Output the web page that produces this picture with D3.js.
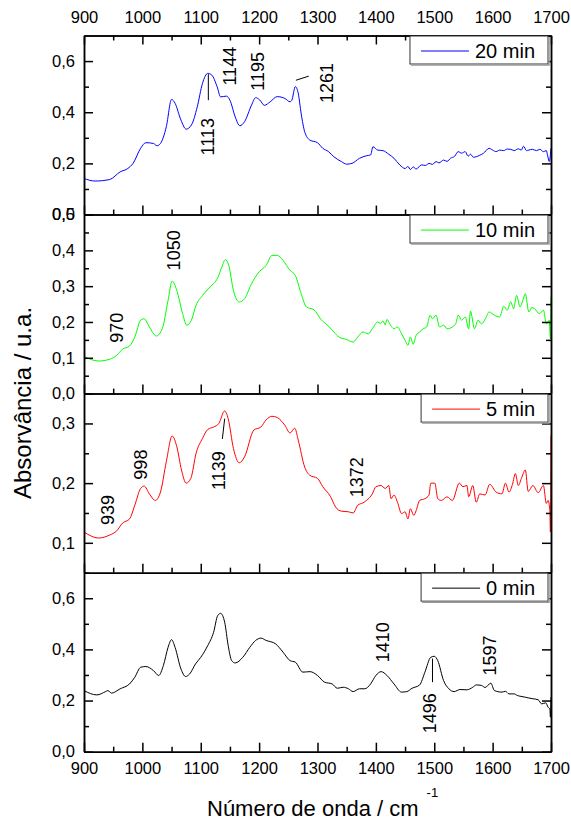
<!DOCTYPE html>
<html>
<head>
<meta charset="utf-8">
<script src="https://cdn.jsdelivr.net/npm/d3@7"></script>
<style>
  body { margin: 0; background: #fff; }
  text { font-family: "Liberation Sans", Arial, sans-serif; }
</style>
</head>
<body>
<svg id="chart" width="571" height="823"></svg>
<script>
// ---- data (wavenumber / cm-1, absorbance) ----
const xTicks = [900, 1000, 1100, 1200, 1300, 1400, 1500, 1600, 1700];
const xMinor = [950, 1050, 1150, 1250, 1350, 1450, 1550, 1650];
const legendLabels = ["20 min", "10 min", "5 min", "0 min"];

const spec20 = [[900,0.141],[919,0.131],[944,0.137],[962,0.167],[975,0.180],[984,0.200],[997,0.259],[1006,0.281],[1019,0.278],[1025,0.269],
  [1031,0.278],[1041,0.343],[1050,0.450],[1056,0.435],[1066,0.370],[1075,0.334],[1084,0.350],[1094,0.421],[1103,0.513],[1112,0.552],
  [1119,0.545],[1128,0.500],[1134,0.460],[1144,0.463],[1150,0.447],[1159,0.382],[1167,0.347],[1175,0.363],[1187,0.428],[1194,0.457],
  [1201,0.448],[1209,0.427],[1219,0.441],[1231,0.461],[1244,0.454],[1253,0.441],[1256,0.447],[1262,0.500],[1267,0.474],[1272,0.395],
  [1278,0.324],[1287,0.291],[1300,0.281],[1309,0.259],[1319,0.246],[1328,0.226],[1341,0.207],[1350,0.197],[1359,0.200],[1372,0.220],
  [1384,0.230],[1391,0.233],[1395,0.265],[1403,0.252],[1412,0.250],[1422,0.236],[1431,0.220],[1441,0.194],[1450,0.180],[1455,0.188],
  [1459,0.176],[1464,0.186],[1469,0.178],[1478,0.194],[1485,0.192],[1491,0.200],[1497,0.196],[1503,0.207],[1508,0.202],[1516,0.213],
  [1522,0.208],[1528,0.220],[1535,0.228],[1541,0.246],[1547,0.240],[1553,0.246],[1558,0.228],[1562,0.236],[1567,0.224],[1572,0.226],
  [1578,0.232],[1584,0.239],[1594,0.259],[1600,0.252],[1606,0.246],[1612,0.252],[1619,0.250],[1625,0.256],[1631,0.255],[1637,0.250],
  [1644,0.257],[1649,0.252],[1653,0.267],[1658,0.250],[1662,0.252],[1668,0.255],[1675,0.250],[1681,0.255],[1687,0.246],[1692,0.250],
  [1694,0.233],[1697,0.207],[1700,0.259]];

const spec10 = [[900,0.104],[925,0.091],[944,0.096],[956,0.107],[966,0.124],[978,0.133],[987,0.158],[997,0.205],[1003,0.209],[1012,0.186],
  [1024,0.161],[1034,0.181],[1044,0.260],[1051,0.314],[1059,0.288],[1069,0.223],[1076,0.191],[1084,0.205],[1092,0.247],[1103,0.274],
  [1116,0.298],[1129,0.323],[1136,0.353],[1142,0.374],[1148,0.358],[1156,0.288],[1166,0.256],[1175,0.265],[1187,0.307],[1200,0.340],
  [1212,0.358],[1222,0.386],[1231,0.386],[1241,0.372],[1253,0.344],[1262,0.330],[1272,0.279],[1281,0.242],[1294,0.234],[1306,0.207],
  [1319,0.188],[1328,0.172],[1337,0.158],[1350,0.151],[1361,0.144],[1369,0.158],[1378,0.172],[1387,0.167],[1394,0.181],[1403,0.200],
  [1408,0.196],[1412,0.203],[1416,0.192],[1419,0.207],[1425,0.191],[1431,0.181],[1437,0.186],[1444,0.167],[1450,0.149],[1455,0.135],
  [1459,0.158],[1464,0.138],[1469,0.163],[1475,0.172],[1481,0.181],[1487,0.186],[1493,0.219],[1497,0.209],[1503,0.219],[1509,0.186],
  [1516,0.191],[1522,0.181],[1531,0.186],[1537,0.196],[1541,0.219],[1547,0.205],[1553,0.214],[1559,0.181],[1562,0.230],[1569,0.181],
  [1575,0.205],[1581,0.195],[1588,0.210],[1594,0.228],[1603,0.219],[1612,0.214],[1619,0.244],[1625,0.233],[1631,0.256],[1636,0.237],
  [1641,0.274],[1647,0.242],[1652,0.262],[1656,0.279],[1662,0.228],[1667,0.240],[1672,0.237],[1680,0.223],[1687,0.233],[1692,0.195],
  [1697,0.205],[1699,0.153],[1700,0.270]];

const spec5 = [[900,0.118],[925,0.108],[944,0.113],[956,0.120],[966,0.133],[978,0.140],[987,0.163],[997,0.191],[1003,0.195],[1012,0.182],
  [1022,0.171],[1031,0.185],[1041,0.236],[1051,0.279],[1059,0.261],[1067,0.222],[1075,0.200],[1083,0.208],[1092,0.250],[1103,0.275],
  [1112,0.290],[1122,0.294],[1131,0.300],[1141,0.321],[1147,0.308],[1156,0.258],[1166,0.234],[1175,0.244],[1191,0.289],[1203,0.294],
  [1212,0.306],[1222,0.312],[1231,0.310],[1244,0.297],[1253,0.284],[1261,0.292],[1267,0.272],[1278,0.227],[1287,0.213],[1300,0.208],
  [1309,0.194],[1322,0.178],[1331,0.160],[1341,0.153],[1353,0.152],[1361,0.150],[1369,0.163],[1378,0.167],[1384,0.171],[1394,0.182],
  [1400,0.194],[1409,0.196],[1416,0.191],[1422,0.196],[1426,0.174],[1431,0.180],[1437,0.168],[1444,0.149],[1450,0.152],[1455,0.140],
  [1459,0.157],[1465,0.146],[1469,0.154],[1475,0.171],[1484,0.174],[1491,0.180],[1494,0.200],[1501,0.200],[1506,0.174],[1512,0.171],
  [1522,0.177],[1531,0.171],[1543,0.200],[1549,0.194],[1556,0.196],[1559,0.177],[1566,0.196],[1572,0.168],[1578,0.182],[1587,0.180],
  [1595,0.198],[1606,0.185],[1616,0.182],[1622,0.200],[1628,0.185],[1634,0.198],[1639,0.216],[1644,0.196],[1650,0.210],[1656,0.222],
  [1661,0.186],[1669,0.196],[1678,0.184],[1687,0.196],[1692,0.166],[1695,0.171],[1698,0.154],[1699,0.118],[1700,0.280]];

const spec0 = [[900,0.239],[922,0.222],[937,0.235],[941,0.239],[947,0.229],[962,0.246],[978,0.265],[987,0.291],[997,0.330],[1006,0.333],
  [1019,0.317],[1028,0.298],[1036,0.337],[1044,0.408],[1050,0.438],[1056,0.408],[1066,0.324],[1074,0.294],[1081,0.304],[1091,0.343],
  [1100,0.369],[1112,0.415],[1122,0.467],[1129,0.532],[1134,0.541],[1141,0.506],[1147,0.415],[1153,0.356],[1159,0.347],[1172,0.369],
  [1184,0.408],[1194,0.435],[1203,0.444],[1212,0.435],[1228,0.422],[1241,0.389],[1253,0.356],[1262,0.350],[1275,0.311],[1287,0.313],
  [1300,0.298],[1312,0.272],[1325,0.265],[1334,0.248],[1344,0.252],[1353,0.246],[1361,0.235],[1372,0.246],[1381,0.246],[1391,0.265],
  [1400,0.298],[1409,0.313],[1419,0.298],[1431,0.265],[1444,0.233],[1453,0.235],[1462,0.248],[1475,0.261],[1484,0.311],[1494,0.369],
  [1500,0.373],[1506,0.356],[1516,0.278],[1525,0.246],[1534,0.235],[1544,0.243],[1556,0.242],[1566,0.252],[1572,0.261],[1581,0.259],
  [1587,0.251],[1597,0.268],[1603,0.239],[1616,0.233],[1622,0.236],[1628,0.226],[1637,0.226],[1642,0.220],[1647,0.217],[1656,0.213],
  [1662,0.210],[1669,0.207],[1678,0.203],[1684,0.187],[1691,0.191],[1695,0.174],[1698,0.167],[1699,0.135],[1700,0.213]];

const series = [spec20, spec10, spec5, spec0];
const colors = ["#0000ff", "#00ff00", "#ff0000", "#000000"];

// y ranges + ticks of each stacked panel
const yDomains = [[0, 0.7], [0, 0.5], [0.05, 0.35], [0, 0.7]];
const yMajor = [[0, 0.2, 0.4, 0.6], [0, 0.1, 0.2, 0.3, 0.4, 0.5], [0.1, 0.2, 0.3], [0, 0.2, 0.4, 0.6]];
const yMinor = [[0.1, 0.3, 0.5], [0.05, 0.15, 0.25, 0.35, 0.45], [0.05, 0.15, 0.25, 0.35], [0.1, 0.3, 0.5]];

// peak labels (panel, text, wavenumber, absorbance of label centre)
const peakLabels = [
  [0, "1113", 1113, 0.304], [0, "1144", 1150, 0.58], [0, "1195", 1198, 0.56], [0, "1261", 1316, 0.514],
  [1, "970", 956, 0.184], [1, "1050", 1054, 0.40],
  [2, "939", 941, 0.155], [2, "998", 998, 0.231], [2, "1139", 1131, 0.221], [2, "1372", 1368, 0.21],
  [3, "1410", 1412, 0.428], [3, "1496", 1493, 0.15], [3, "1597", 1595, 0.376]
];
// leader lines (panel, [wn, abs], [wn, abs])
const leaders = [
  [0, [1113, 0.549], [1113, 0.447]],
  [0, [1263, 0.525], [1285, 0.541]],
  [2, [1137, 0.274], [1141, 0.308]],
  [3, [1497, 0.364], [1497, 0.272]]
];

// ---- layout ----
let svg = d3.select("#chart");
let plotLeft = 84, plotRight = 551, plotTop = 35.5, plotBottom = 751.7;
let panelH = (plotBottom - plotTop) / 4;

let x = d3.scaleLinear().domain([900, 1700]).range([plotLeft, plotRight]);
let fmt = d => d3.format(".1f")(d).replace(".", ",");

let line = d3.line().x(d => x(d[0])).curve(d3.curveMonotoneX);

function styleAxis(g) {
  g.selectAll("path").attr("stroke", "#000").attr("stroke-width", 1.5);
  g.selectAll("line").attr("stroke", "#000").attr("stroke-width", 1.5);
  g.selectAll("text").attr("font-size", 16.5).attr("fill", "#000")
    .attr("font-family", '"Liberation Sans", Arial, sans-serif');
}

series.forEach((data, i) => {
  let y0 = plotTop + i * panelH, y1 = y0 + panelH;
  let y = d3.scaleLinear().domain(yDomains[i]).range([y1, y0]);
  let g = svg.append("g");

  // curve
  g.append("path")
    .datum(data)
    .attr("fill", "none")
    .attr("stroke", colors[i])
    .attr("stroke-width", 1)
    .attr("d", line.y(d => y(d[1])));

  // left / right axes
  g.append("g").attr("transform", `translate(${plotLeft},0)`)
    .call(d3.axisLeft(y).tickValues(yMinor[i]).tickSize(-5).tickSizeOuter(0).tickFormat(""))
    .call(styleAxis);
  g.append("g").attr("transform", `translate(${plotLeft},0)`)
    .call(d3.axisLeft(y).tickValues(yMajor[i]).tickSize(-9).tickSizeOuter(0).tickPadding(9).tickFormat(fmt))
    .call(styleAxis);
  g.append("g").attr("transform", `translate(${plotRight},0)`)
    .call(d3.axisRight(y).tickValues(yMinor[i]).tickSize(-5).tickSizeOuter(0).tickFormat(""))
    .call(styleAxis);
  g.append("g").attr("transform", `translate(${plotRight},0)`)
    .call(d3.axisRight(y).tickValues(yMajor[i]).tickSize(-9).tickSizeOuter(0).tickFormat(""))
    .call(styleAxis);

  // bottom axis (labels only on the last panel)
  g.append("g").attr("transform", `translate(0,${y1})`)
    .call(d3.axisBottom(x).tickValues(xMinor).tickSize(-5).tickSizeOuter(0).tickFormat(""))
    .call(styleAxis);
  g.append("g").attr("transform", `translate(0,${y1})`)
    .call(d3.axisBottom(x).tickValues(xTicks).tickSize(-9).tickSizeOuter(0).tickPadding(11)
      .tickFormat(i == 3 ? d3.format("d") : ""))
    .call(styleAxis);

  // top axis only on the first panel
  if (i == 0) {
    g.append("g").attr("transform", `translate(0,${y0})`)
      .call(d3.axisTop(x).tickValues(xMinor).tickSize(-5).tickSizeOuter(0).tickFormat(""))
      .call(styleAxis);
    g.append("g").attr("transform", `translate(0,${y0})`)
      .call(d3.axisTop(x).tickValues(xTicks).tickSize(-9).tickSizeOuter(0).tickPadding(13).tickFormat(d3.format("d")))
      .call(styleAxis);
  }

  // legend box
  let leg = g.append("g");
  let txt = leg.append("text")
    .attr("font-size", 20)
    .attr("dominant-baseline", "central")
    .text(legendLabels[i]);
  let tw = txt.node().getComputedTextLength();
  let bw = tw + 78, bh = 28;
  let bx = plotRight - 3 - bw, by = y0 + 0.5;
  leg.insert("rect", "text")
    .attr("x", bx).attr("y", by).attr("width", bw).attr("height", bh)
    .attr("fill", "#fff").attr("stroke", "#333").attr("stroke-width", 1);
  leg.insert("path", "text")
    .attr("d", `M${bx + 1},${by + bh + 1}H${bx + bw + 1}V${by + 1}`)
    .attr("fill", "none").attr("stroke", "#999").attr("stroke-width", 1.5);
  leg.insert("line", "text")
    .attr("x1", bx + 11).attr("x2", bx + 59)
    .attr("y1", by + bh / 2 + 1).attr("y2", by + bh / 2 + 1)
    .attr("stroke", colors[i]).attr("stroke-width", 1);
  txt.attr("x", bx + 65).attr("y", by + bh / 2 + 1);

  // peak labels
  peakLabels.filter(p => p[0] == i).forEach(p => {
    g.append("text")
      .attr("transform", `translate(${x(p[2])},${y(p[3])}) rotate(-90)`)
      .attr("text-anchor", "middle")
      .attr("dominant-baseline", "central")
      .attr("font-size", 18)
      .text(p[1]);
  });
  leaders.filter(l => l[0] == i).forEach(l => {
    g.append("line")
      .attr("x1", x(l[1][0])).attr("y1", y(l[1][1]))
      .attr("x2", x(l[2][0])).attr("y2", y(l[2][1]))
      .attr("stroke", "#000").attr("stroke-width", 1);
  });
});

// axis titles
svg.append("text")
  .attr("transform", `translate(31,403) rotate(-90)`)
  .attr("text-anchor", "middle")
  .attr("font-size", 24)
  .text("Absorvância / u.a.");

let xt = svg.append("text")
  .attr("x", 207).attr("y", 816)
  .attr("font-size", 22)
  .text("Número de onda / cm");
xt.append("tspan").attr("dx", 8).attr("dy", -19).attr("font-size", 13).text("-1");
</script>
</body>
</html>
